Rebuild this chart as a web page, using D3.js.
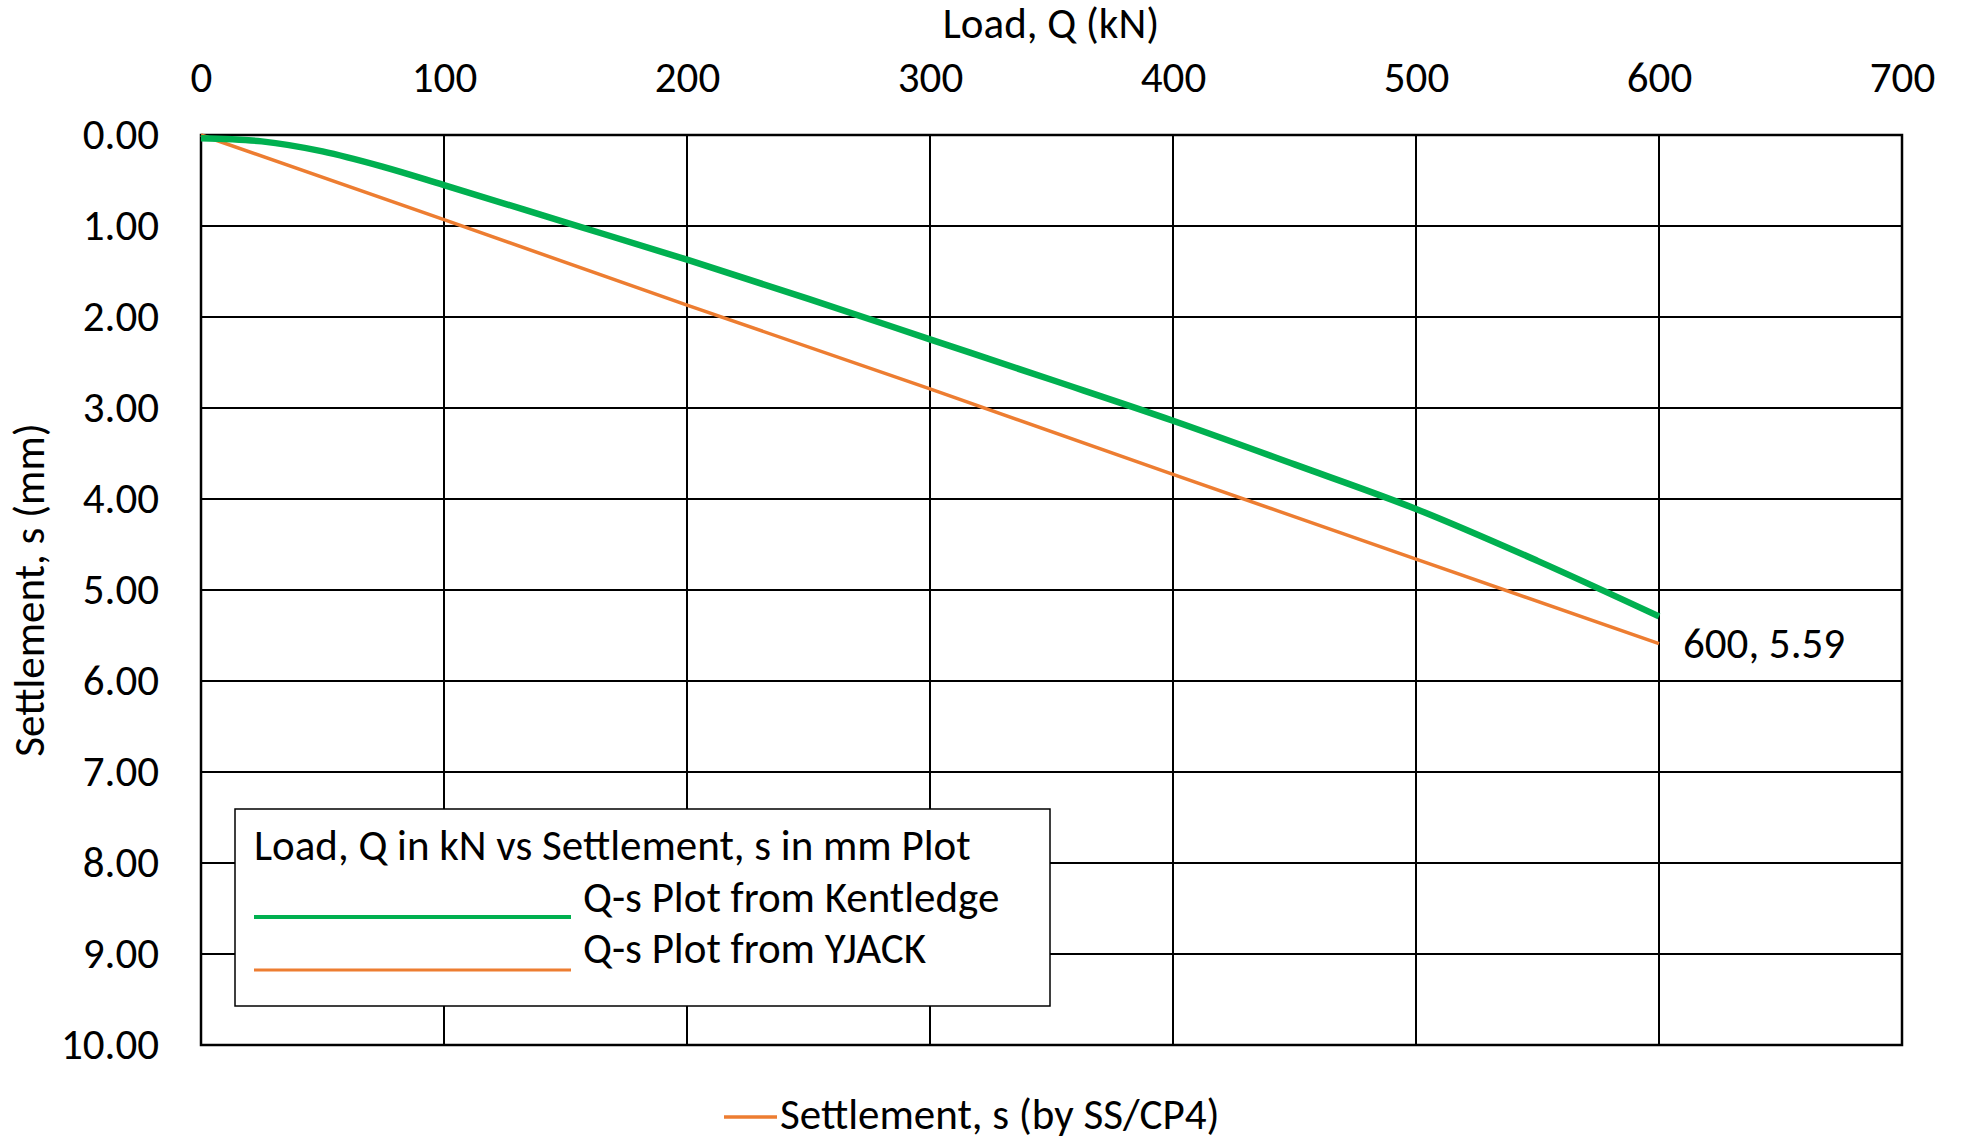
<!DOCTYPE html>
<html>
<head>
<meta charset="utf-8">
<script src="https://cdn.jsdelivr.net/npm/d3@7"></script>
<style>
  html, body { margin: 0; padding: 0; background: #fff; }
  svg { display: block; }
  text { font-family: Carlito, Calibri, Lato, sans-serif; fill: #000; }
</style>
</head>
<body>
<svg id="chart" width="1961" height="1141"></svg>
<script>
// ---- Data ----
const kentledgeLoads = [0, 25, 50, 75, 100, 150, 200, 250, 300, 350, 400, 450, 500, 550, 600];
const kentledgeSettlement = [0.035, 0.07, 0.18, 0.35, 0.55, 0.96, 1.37, 1.80, 2.245, 2.69, 3.14, 3.62, 4.11, 4.68, 5.29];
const yjackLoads = [0, 100, 200, 300, 400, 500, 600];
const yjackSettlement = [0, 0.93, 1.87, 2.79, 3.73, 4.66, 5.59];
const xTicks = [0, 100, 200, 300, 400, 500, 600, 700];
const yTicks = [0, 1, 2, 3, 4, 5, 6, 7, 8, 9, 10];
const xTitle = "Load, Q (kN)";
const yTitle = "Settlement, s (mm)";
const legendTitle = "Load, Q in kN vs Settlement, s in mm Plot";
const seriesNames = ["Q-s Plot from Kentledge", "Q-s Plot from YJACK"];
const bottomLegend = "Settlement, s (by SS/CP4)";
const dataLabel = "600, 5.59";

(function () {
const GREEN = "#00B050", ORANGE = "#ED7D31";
const FS = 43;
const FONT = "Carlito, Calibri, Lato, sans-serif";

const svg = d3.select("#chart");
const pL = 201, pR = 1902, pT = 135, pB = 1045;
const x = d3.scaleLinear().domain([0, 700]).range([pL, pR]);
const y = d3.scaleLinear().domain([0, 10]).range([pT, pB]);

// Gridlines
const grid = svg.append("g");
grid.selectAll("line.v").data(xTicks).join("line").attr("class", "v")
  .attr("x1", d => x(d)).attr("x2", d => x(d))
  .attr("y1", pT).attr("y2", pB)
  .attr("stroke", "#000").attr("stroke-width", 2);
grid.selectAll("line.h").data(yTicks).join("line").attr("class", "h")
  .attr("x1", pL).attr("x2", pR)
  .attr("y1", d => y(d)).attr("y2", d => y(d))
  .attr("stroke", "#000").attr("stroke-width", 2);
svg.append("rect").attr("x", pL).attr("y", pT)
  .attr("width", pR - pL).attr("height", pB - pT)
  .attr("fill", "none").attr("stroke", "#000").attr("stroke-width", 2.5);

// Axes (labels only)
const xAxis = svg.append("g").attr("transform", `translate(0,${pT})`)
  .call(d3.axisTop(x).tickValues(xTicks).tickSize(0).tickPadding(43).tickFormat(d3.format("d")));
xAxis.select(".domain").remove();
xAxis.selectAll("text").attr("font-size", FS).attr("font-family", FONT).attr("fill", "#000");

const yAxis = svg.append("g").attr("transform", `translate(${pL},0)`)
  .call(d3.axisLeft(y).tickValues(yTicks).tickSize(0).tickPadding(42).tickFormat(d3.format(".2f")));
yAxis.select(".domain").remove();
yAxis.selectAll("text").attr("font-size", FS).attr("dy", "0.32em").attr("font-family", FONT).attr("fill", "#000");

// Titles
svg.append("text").attr("x", 1051).attr("y", 38).attr("text-anchor", "middle")
  .attr("font-size", FS).text(xTitle);
svg.append("text").attr("transform", `translate(44,${(pT + pB) / 2}) rotate(-90)`)
  .attr("text-anchor", "middle").attr("font-size", FS).text(yTitle);

// Series
const kData = kentledgeLoads.map((q, i) => [q, kentledgeSettlement[i]]);
const jData = yjackLoads.map((q, i) => [q, yjackSettlement[i]]);
const smooth = d3.line().x(d => x(d[0])).y(d => y(d[1])).curve(d3.curveCatmullRom.alpha(0.5));
const straight = d3.line().x(d => x(d[0])).y(d => y(d[1]));

svg.append("path").datum(jData).attr("d", straight)
  .attr("fill", "none").attr("stroke", ORANGE).attr("stroke-width", 3.5);
svg.append("path").datum(kData).attr("d", smooth)
  .attr("fill", "none").attr("stroke", GREEN).attr("stroke-width", 6.5);

// Data label
const last = jData[jData.length - 1];
svg.append("text").attr("x", x(last[0]) + 24).attr("y", y(last[1]) + 14)
  .attr("font-size", FS).text(dataLabel);

// Legend box
const lg = svg.append("g");
lg.append("rect").attr("x", 235).attr("y", 809).attr("width", 815).attr("height", 197)
  .attr("fill", "#fff").attr("stroke", "#000").attr("stroke-width", 1.5);
lg.append("text").attr("x", 254).attr("y", 860).attr("font-size", FS).text(legendTitle);
const legendRows = [
  { name: seriesNames[0], color: GREEN, w: 4.2, ly: 917, ty: 912 },
  { name: seriesNames[1], color: ORANGE, w: 3.2, ly: 970, ty: 963 }
];
legendRows.forEach(r => {
  lg.append("line").attr("x1", 254).attr("x2", 571).attr("y1", r.ly).attr("y2", r.ly)
    .attr("stroke", r.color).attr("stroke-width", r.w);
  lg.append("text").attr("x", 583).attr("y", r.ty).attr("font-size", FS).text(r.name);
});

// Bottom legend
svg.append("line").attr("x1", 724).attr("x2", 777).attr("y1", 1117).attr("y2", 1117)
  .attr("stroke", ORANGE).attr("stroke-width", 3.5);
svg.append("text").attr("x", 780).attr("y", 1129).attr("font-size", FS).text(bottomLegend);
})();
</script>
</body>
</html>
